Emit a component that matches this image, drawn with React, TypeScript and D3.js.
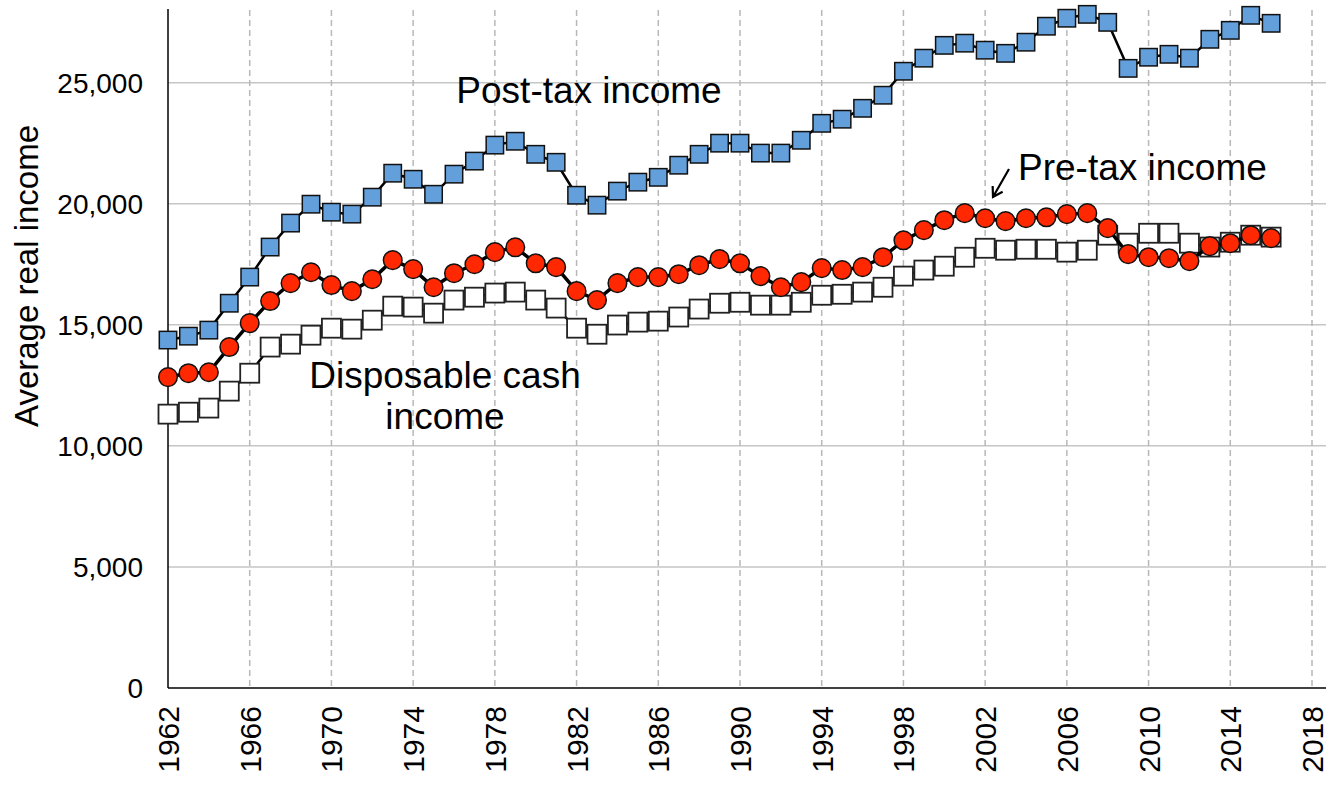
import * as d3 from 'd3';

const years = d3.range(1962, 2017);

const postTax = [
  14370, 14530, 14780, 15890, 16970, 18210, 19200, 19980, 19650, 19570,
  20270, 21260, 21010, 20390, 21220, 21760, 22420, 22580, 22040, 21710,
  20350, 19940, 20520, 20890, 21090, 21590, 22040, 22500, 22500, 22090,
  22090, 22620, 23320, 23490, 23940, 24480, 25470, 26010, 26540, 26630,
  26340, 26210, 26670, 27330, 27660, 27820, 27490, 25590, 26050, 26170,
  26010, 26790, 27160, 27780, 27450,
];

const preTax = [
  12840, 13000, 13040, 14080, 15070, 15980, 16720, 17170, 16640, 16390,
  16880, 17670, 17300, 16550, 17130, 17500, 18000, 18200, 17540, 17380,
  16390, 16020, 16720, 16970, 16970, 17090, 17460, 17710, 17540, 17010,
  16550, 16760, 17340, 17260, 17380, 17790, 18490, 18910, 19320, 19610,
  19400, 19280, 19400, 19440, 19570, 19610, 18990, 17920, 17790, 17750,
  17630, 18250, 18370, 18700, 18580,
];

const disposable = [
  11310, 11390, 11560, 12260, 13000, 14080, 14200, 14570, 14860, 14820,
  15190, 15770, 15730, 15480, 16020, 16140, 16310, 16350, 16020, 15690,
  14860, 14610, 14990, 15110, 15150, 15320, 15650, 15890, 15930, 15810,
  15810, 15930, 16220, 16260, 16350, 16550, 17010, 17260, 17420, 17790,
  18160, 18080, 18120, 18120, 18000, 18080, 18700, 18370, 18780, 18780,
  18370, 18210, 18410, 18700, 18620,
];

const yTicks = [0, 5000, 10000, 15000, 20000, 25000];
const xTicks = d3.range(1962, 2019, 4);

const W = 1326;
const H = 785;
const left = 168;
const right = 1326;
const top = 10;
const bottom = 688;

const x = d3.scaleLinear().domain([1962, 2018]).range([left, 1312]);
const y = d3.scaleLinear().domain([0, 28000]).range([bottom, top]);

const FONT = 'Liberation Sans, Arial, sans-serif';

const line = d3
  .line<number>()
  .x((_, i) => x(years[i]))
  .y((d) => y(d));

function Arrow() {
  const tip = [993, 197];
  const tail = [1009, 169];
  const ang = Math.atan2(tail[1] - tip[1], tail[0] - tip[0]);
  const len = 11;
  const a1 = ang + 0.55;
  const a2 = ang - 0.55;
  const d = `M${tail[0]},${tail[1]}L${tip[0]},${tip[1]}` +
    `M${tip[0] + len * Math.cos(a1)},${tip[1] + len * Math.sin(a1)}L${tip[0]},${tip[1]}` +
    `L${tip[0] + len * Math.cos(a2)},${tip[1] + len * Math.sin(a2)}`;
  return <path d={d} fill="none" stroke="#000" strokeWidth={2.2} />;
}

export default function App() {
  const fmt = d3.format(',');
  return (
    <svg
      width={W}
      height={H}
      style={{ position: 'absolute', left: 0, top: 0, background: '#fff' }}
      fontFamily={FONT}
    >
      {/* horizontal grid */}
      {yTicks.filter((t) => t > 0).map((t) => (
        <line key={t} x1={left} x2={right} y1={y(t)} y2={y(t)} stroke="#c6c6c6" strokeWidth={1.5} />
      ))}
      {/* vertical dashed grid */}
      {xTicks.filter((t) => t > 1962).map((t) => (
        <line
          key={t}
          x1={x(t)}
          x2={x(t)}
          y1={top}
          y2={bottom}
          stroke="#b8b8b8"
          strokeWidth={1.5}
          strokeDasharray="6,4"
        />
      ))}

      {/* axes */}
      <line x1={left} x2={left} y1={top - 1} y2={bottom} stroke="#000" strokeWidth={1.5} />
      <line x1={left} x2={right} y1={bottom} y2={bottom} stroke="#000" strokeWidth={1.5} />

      {yTicks.map((t) => (
        <text key={t} x={143} y={y(t)} dy="0.36em" textAnchor="end" fontSize={28}>
          {fmt(t)}
        </text>
      ))}
      {xTicks.map((t) => (
        <text
          key={t}
          transform={`translate(${x(t) + 11},706) rotate(-90)`}
          textAnchor="end"
          fontSize={30}
        >
          {t}
        </text>
      ))}
      <text
        transform={`translate(38,276) rotate(-90)`}
        textAnchor="middle"
        fontSize={33}
      >
        Average real income
      </text>

      {/* disposable cash income */}
      <path d={line(disposable) || ''} fill="none" stroke="#000" strokeWidth={2.5} />
      {disposable.map((v, i) => (
        <rect
          key={i}
          x={x(years[i]) - 9.5}
          y={y(v) - 9.5}
          width={19}
          height={19}
          fill="#fff"
          stroke="#222"
          strokeWidth={1.8}
        />
      ))}

      {/* pre-tax */}
      <path d={line(preTax) || ''} fill="none" stroke="#000" strokeWidth={3.5} />
      {preTax.map((v, i) => (
        <circle key={i} cx={x(years[i])} cy={y(v)} r={9.3} fill="#ff2800" stroke="#111" strokeWidth={1.5} />
      ))}

      {/* post-tax */}
      <path d={line(postTax) || ''} fill="none" stroke="#000" strokeWidth={2.5} />
      {postTax.map((v, i) => (
        <rect
          key={i}
          x={x(years[i]) - 8.7}
          y={y(v) - 8.7}
          width={17.4}
          height={17.4}
          fill="#629fdb"
          stroke="#111"
          strokeWidth={1.5}
        />
      ))}

      {/* annotations */}
      <text x={589} y={103} textAnchor="middle" fontSize={37}>Post-tax income</text>
      <text x={1018} y={180} fontSize={37}>Pre-tax income</text>
      <Arrow />
      <text x={445} y={388} textAnchor="middle" fontSize={37}>Disposable cash</text>
      <text x={445} y={429} textAnchor="middle" fontSize={37}>income</text>
    </svg>
  );
}
